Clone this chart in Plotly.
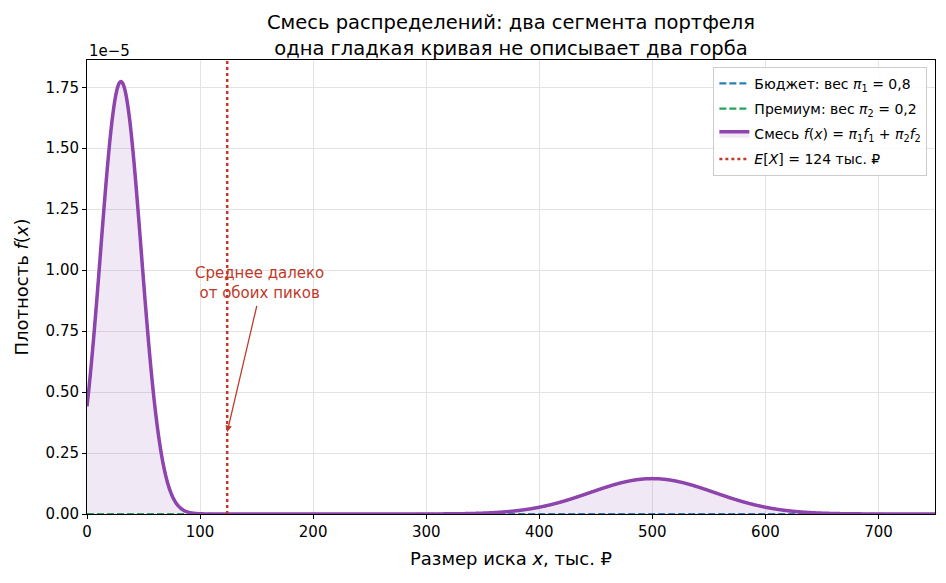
import numpy as np
import plotly.graph_objects as go

# Mixture parameters (thousand rubles)
segments = ["Бюджет", "Премиум"]
weights = [0.8, 0.2]
means_k = [30.0, 500.0]      # thousand ₽
sds_k = [18.0, 55.0]         # thousand ₽
mean_total = 124             # E[X], thousand ₽

x_k = np.linspace(0, 750, 1501)

def normal_pdf_per_rub(x_k, m_k, s_k):
    # density per ruble (x given in thousands)
    s = s_k * 1000.0
    z = (x_k - m_k) / s_k
    return np.exp(-0.5 * z * z) / (np.sqrt(2 * np.pi) * s)

comp = [w * normal_pdf_per_rub(x_k, m, s) for w, m, s in zip(weights, means_k, sds_k)]
mix = comp[0] + comp[1]
ymax = mix.max() * 1.05

blue = "#2a7fb8"
green = "#27a35e"
purple = "#8e44ad"
red = "#c0392b"

fig = go.Figure()
fig.add_trace(go.Scatter(x=x_k, y=comp[0], mode="lines", legendgroup="a",
                         line=dict(color=blue, width=2.2, dash="7px,3px", simplify=False),
                         name="Бюджет: вес <i>π</i><sub>1</sub> = 0,8"))
fig.add_trace(go.Scatter(x=x_k, y=comp[1], mode="lines", legendgroup="b",
                         line=dict(color=green, width=2.2, dash="7px,3px", simplify=False),
                         name="Премиум: вес <i>π</i><sub>2</sub> = 0,2"))
fig.add_trace(go.Scatter(x=x_k, y=mix, mode="lines", fill="tozeroy", legendgroup="c",
                         fillcolor="rgba(142,68,173,0.12)",
                         line=dict(color=purple, width=3.5, simplify=False),
                         name="Смесь <i>f</i>(<i>x</i>) = <i>π</i><sub>1</sub><i>f</i><sub>1</sub> + <i>π</i><sub>2</sub><i>f</i><sub>2</sub>"))
fig.add_trace(go.Scatter(x=[mean_total, mean_total], y=[0, ymax], mode="lines", legendgroup="d",
                         line=dict(color=red, width=2.5, dash="3px,3px"),
                         name="<i>E</i>[<i>X</i>] = 124 тыс. ₽"))

yticks = [0, 0.25e-5, 0.5e-5, 0.75e-5, 1.0e-5, 1.25e-5, 1.5e-5, 1.75e-5]
yticktext = ["0.00", "0.25", "0.50", "0.75", "1.00", "1.25", "1.50", "1.75"]

fig.add_annotation(x=153, y=0.947e-5, xref="x", yref="y",
                   text="Среднее далеко<br>от обоих пиков", showarrow=False,
                   font=dict(color=red, size=15, family="DejaVu Sans"))
fig.add_annotation(x=mean_total, y=0.336e-5, ax=150.5, ay=0.86e-5,
                   xref="x", yref="y", axref="x", ayref="y",
                   text="", showarrow=True, arrowhead=2, arrowsize=1,
                   arrowwidth=1.3, arrowcolor=red)
fig.add_annotation(x=0, y=1.0, xref="paper", yref="paper", xanchor="left",
                   yanchor="bottom", text="1e−5", showarrow=False,
                   font=dict(size=15, color="black"), yshift=-2)

fig.update_layout(
    width=946, height=583,
    margin=dict(l=87, r=11, t=60, b=69),
    paper_bgcolor="white", plot_bgcolor="white",
    font=dict(family="DejaVu Sans", size=15, color="black"),
    title=dict(text="Смесь распределений: два сегмента портфеля<br>одна гладкая кривая не описывает два горба",
               x=0.5, xref="paper", xanchor="center", y=0.95, yanchor="top",
               font=dict(size=19.5)),
    showlegend=True,
    legend=dict(x=0.991, y=0.985, xanchor="right", yanchor="top",
                bgcolor="rgba(255,255,255,0.85)", bordercolor="#cccccc", borderwidth=1,
                font=dict(size=14), tracegroupgap=4),
    xaxis=dict(range=[0, 750], tickvals=[0, 100, 200, 300, 400, 500, 600, 700],
               showgrid=True, gridcolor="#e3e3e3", gridwidth=1,
               showline=True, linecolor="black", linewidth=1, mirror=True,
               ticks="outside", ticklen=4, tickcolor="black", zeroline=False,
               title=dict(text="Размер иска <i>x</i>, тыс. ₽", font=dict(size=18), standoff=12)),
    yaxis=dict(range=[0, ymax], tickvals=yticks, ticktext=yticktext,
               showgrid=True, gridcolor="#e3e3e3", gridwidth=1,
               showline=True, linecolor="black", linewidth=1, mirror=True,
               ticks="outside", ticklen=4, tickcolor="black", zeroline=False,
               title=dict(text="Плотность <i>f</i>(<i>x</i>)", font=dict(size=18), standoff=12)),
)

fig.write_html("out.html")
